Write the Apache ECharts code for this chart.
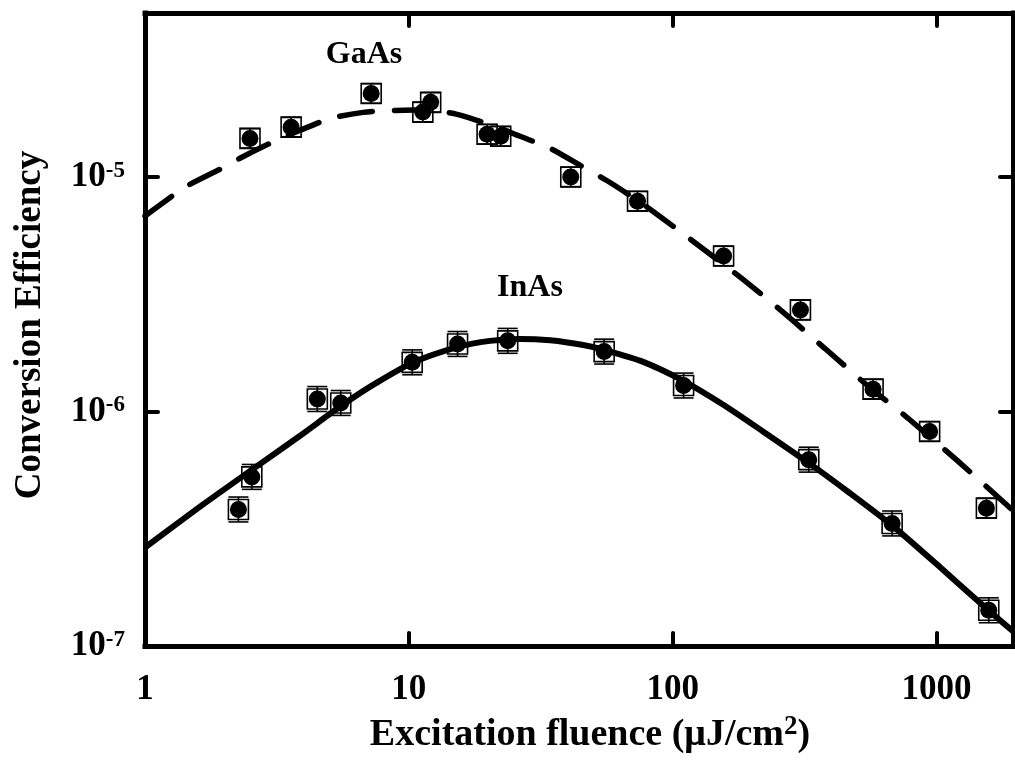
<!DOCTYPE html>
<html>
<head>
<meta charset="utf-8">
<title>Conversion Efficiency vs Excitation fluence</title>
<script src="https://cdn.jsdelivr.net/npm/echarts@6/dist/echarts.min.js"></script>
<style>
  html, body { margin: 0; padding: 0; background: #fff; }
  #chart { width: 1015px; height: 767px; }
</style>
</head>
<body>
<div id="chart"></div>
<script>
// Measured points: excitation fluence (µJ/cm²) and conversion efficiency
const gaasFluence = [2.50, 3.58, 7.2, 11.3, 12.1, 19.8, 22.3, 41.1, 73.6, 156, 305, 575, 942, 1546];
const gaasEff     = [1.46e-5, 1.63e-5, 2.27e-5, 1.89e-5, 2.08e-5, 1.52e-5, 1.49e-5, 1.00e-5, 7.88e-6, 4.6e-6, 2.71e-6, 1.245e-6, 8.22e-7, 3.87e-7];

const inasFluence = [2.26, 2.54, 4.50, 5.52, 10.3, 15.3, 23.7, 55.0, 110, 328, 679, 1578];
const inasEff     = [3.82e-7, 5.26e-7, 1.13e-6, 1.087e-6, 1.62e-6, 1.94e-6, 2.0e-6, 1.80e-6, 1.29e-6, 6.23e-7, 3.33e-7, 1.42e-7];

// Relative error bar size (multiplicative) per material
const gaasErr = 1.10;
const inasErr = 1.13;

// Model curves
const gaasFitFluence = [1, 1.418, 1.959, 2.29, 2.98, 3.87, 5.07, 6.71, 8.87, 10.5, 12.4, 15.25, 18.6, 22.2, 26.4, 34.3, 44.6, 58.5, 80.1, 116.6, 175.8, 255.9, 379, 561, 776, 1200, 1950];
const gaasFitEff     = [6.81e-6, 9.04e-6, 1.089e-5, 1.201e-5, 1.391e-5, 1.58e-5, 1.778e-5, 1.885e-5, 1.922e-5, 1.93e-5, 1.922e-5, 1.849e-5, 1.726e-5, 1.612e-5, 1.49e-5, 1.325e-5, 1.121e-5, 9.40e-6, 7.43e-6, 5.43e-6, 3.82e-6, 2.71e-6, 1.85e-6, 1.26e-6, 9.4e-7, 6.17e-7, 3.78e-7];

const inasFitFluence = [1, 1.617, 2.545, 3.87, 5.54, 7.32, 10.29, 15.38, 20.3, 26.4, 34.3, 45.8, 55.0, 77.3, 109.7, 155.6, 220.6, 326.6, 471.6, 680, 1035, 1573, 1950];
const inasFitEff     = [2.63e-7, 3.93e-7, 5.65e-7, 7.88e-7, 1.057e-6, 1.299e-6, 1.611e-6, 1.885e-6, 2.0e-6, 2.039e-6, 2.01e-6, 1.92e-6, 1.83e-6, 1.627e-6, 1.351e-6, 1.068e-6, 8.20e-7, 6.05e-7, 4.47e-7, 3.26e-7, 2.16e-7, 1.42e-7, 1.155e-7];

// Axis ranges and decade tick values
const xMin = 1, xMax = 1950;
const yMin = 1e-7, yMax = 5e-5;
const xTickValues = [1, 10, 100, 1000];
const yTickExponents = [-7, -6, -5];

const FONT = '"Liberation Serif", "Times New Roman", serif';

function zip(a, b) { return a.map((v, i) => [v, b[i]]); }

function isDecade(v) {
  const e = Math.log10(v);
  return Math.abs(e - Math.round(e)) < 1e-6;
}

// Filled circle inside an open square, with a vertical error bar and caps
function pointRenderer(errFactor) {
  return function (params, api) {
    const x = api.value(0), y = api.value(1);
    const p = api.coord([x, y]);
    const hi = api.coord([x, y * errFactor]);
    const lo = api.coord([x, y / errFactor]);
    const half = 10;
    const thin = { stroke: '#000', lineWidth: 1.6, fill: null };
    return {
      type: 'group',
      children: [
        { type: 'rect', shape: { x: p[0] - half, y: p[1] - half, width: 2 * half, height: 2 * half }, style: thin },
        { type: 'line', shape: { x1: p[0], y1: hi[1], x2: p[0], y2: lo[1] }, style: thin },
        { type: 'line', shape: { x1: p[0] - half, y1: hi[1], x2: p[0] + half, y2: hi[1] }, style: thin },
        { type: 'line', shape: { x1: p[0] - half, y1: lo[1], x2: p[0] + half, y2: lo[1] }, style: thin },
        { type: 'circle', shape: { cx: p[0], cy: p[1], r: 8.5 }, style: { fill: '#000' } }
      ]
    };
  };
}

const frameLine = { show: true, onZero: false, lineStyle: { color: '#000', width: 5, cap: 'square' } };
const innerTick = { show: true, inside: true, length: 13, lineStyle: { color: '#000', width: 4, cap: 'round' } };

const chart = echarts.init(document.getElementById('chart'));

chart.setOption({
  animation: false,
  backgroundColor: '#fff',
  grid: { left: 145, right: 2, top: 13, bottom: 121, containLabel: false },
  xAxis: [
    {
      type: 'log', logBase: 10, min: xMin, max: xMax, position: 'bottom',
      axisLine: frameLine, axisTick: innerTick, splitLine: { show: false },
      axisLabel: {
        margin: 26, color: '#000', fontFamily: FONT, fontWeight: 'bold', fontSize: 35,
        showMaxLabel: false,
        formatter: v => (isDecade(v) && xTickValues.includes(Math.round(v)) ? String(Math.round(v)) : '')
      }
    },
    {
      type: 'log', logBase: 10, min: xMin, max: xMax, position: 'top',
      axisLine: frameLine, axisTick: innerTick, splitLine: { show: false },
      axisLabel: { show: false }
    }
  ],
  yAxis: [
    {
      type: 'log', logBase: 10, min: yMin, max: yMax, position: 'left',
      axisLine: frameLine, axisTick: innerTick, splitLine: { show: false },
      axisLabel: {
        margin: 20, color: '#000', fontFamily: FONT, fontWeight: 'bold',
        showMaxLabel: false,
        formatter: v => {
          if (!isDecade(v)) return '';
          const e = Math.round(Math.log10(v));
          if (!yTickExponents.includes(e)) return '';
          return '{b|10}{s|' + e + '}';
        },
        rich: {
          b: { fontFamily: FONT, fontWeight: 'bold', fontSize: 35, lineHeight: 35, color: '#000', verticalAlign: 'bottom' },
          s: { fontFamily: FONT, fontWeight: 'bold', fontSize: 23, lineHeight: 23, color: '#000', verticalAlign: 'top' }
        }
      }
    },
    {
      type: 'log', logBase: 10, min: yMin, max: yMax, position: 'right',
      axisLine: frameLine, axisTick: innerTick, splitLine: { show: false },
      axisLabel: { show: false }
    }
  ],
  series: [
    {
      name: 'GaAs fit', type: 'line', xAxisIndex: 0, yAxisIndex: 0,
      data: zip(gaasFitFluence, gaasFitEff), showSymbol: false, smooth: 0.25,
      lineStyle: { color: '#000', width: 5.5, type: [33, 22], cap: 'round' },
      clip: true, z: 2
    },
    {
      name: 'InAs fit', type: 'line', xAxisIndex: 0, yAxisIndex: 0,
      data: zip(inasFitFluence, inasFitEff), showSymbol: false, smooth: 0.25,
      lineStyle: { color: '#000', width: 6 },
      clip: true, z: 2
    },
    {
      name: 'GaAs', type: 'custom', xAxisIndex: 0, yAxisIndex: 0,
      data: zip(gaasFluence, gaasEff), renderItem: pointRenderer(gaasErr), z: 3
    },
    {
      name: 'InAs', type: 'custom', xAxisIndex: 0, yAxisIndex: 0,
      data: zip(inasFluence, inasEff), renderItem: pointRenderer(inasErr), z: 3
    }
  ],
  graphic: [
    {
      type: 'text', x: 364, y: 55,
      style: { text: 'GaAs', font: 'bold 32px ' + FONT, fill: '#000', align: 'center', verticalAlign: 'middle' }
    },
    {
      type: 'text', x: 530, y: 288,
      style: { text: 'InAs', font: 'bold 32px ' + FONT, fill: '#000', align: 'center', verticalAlign: 'middle' }
    },
    {
      type: 'text', x: 590, y: 734,
      style: {
        text: '{t|Excitation fluence (\u03bcJ/cm}{s|2}{t|)}',
        align: 'center', verticalAlign: 'middle',
        rich: {
          t: { fontFamily: FONT, fontWeight: 'bold', fontSize: 38, lineHeight: 40, fill: '#000', verticalAlign: 'bottom' },
          s: { fontFamily: FONT, fontWeight: 'bold', fontSize: 27, lineHeight: 27, fill: '#000', verticalAlign: 'top' }
        }
      }
    },
    {
      type: 'text', x: 30, y: 325, rotation: Math.PI / 2,
      style: { text: 'Conversion Efficiency', font: 'bold 37px ' + FONT, fill: '#000', align: 'center', verticalAlign: 'middle' }
    }
  ]
});
</script>
</body>
</html>
